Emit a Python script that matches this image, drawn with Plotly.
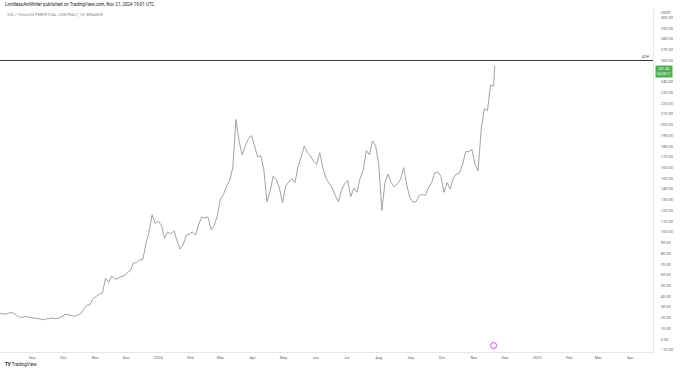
import pandas as pd
import plotly.graph_objects as go

start_date = "2023-08-01"
close = [
    24.0, 23.5, 23.3, 24.6, 24.6, 23.0, 21.0, 20.2, 21.0, 20.7, 20.2,          # Aug 23
    19.6, 19.7, 19.3, 18.2, 18.9, 19.6, 19.6, 19.2, 19.5, 21.2,                # Sep
    23.0, 22.9, 22.1, 21.3, 22.2, 23.8, 28.0, 31.6, 32.2, 38.2,                # Oct
    39.8, 42.0, 43.0, 57.0, 53.0, 59.0, 56.0, 56.5, 58.5, 59.0,                # Nov
    62.0, 64.0, 71.0, 71.5, 74.0, 74.0, 89.0, 100.0, 116.0, 108.0,             # Dec
    110.0, 106.0, 94.0, 100.0, 98.0, 101.0, 92.0, 84.0, 88.0, 97.0, 98.0,      # Jan 24
    100.0, 97.0, 107.0, 114.0, 113.0, 114.0, 102.0, 106.0, 115.0,              # Feb
    131.0, 135.0, 143.0, 148.0, 160.0, 205.0, 185.0, 172.0, 180.0, 187.0, 190.0,  # Mar
    181.0, 170.0, 171.0, 158.0, 128.0, 138.0, 152.0, 149.0, 141.0, 127.0,      # Apr
    143.0, 147.0, 150.0, 146.0, 161.0, 170.0, 180.0, 174.0, 171.0, 166.0,      # May
    163.0, 174.0, 160.0, 150.0, 145.0, 141.0, 134.0, 128.0, 139.0, 145.0,      # Jun
    148.0, 133.0, 141.0, 137.0, 150.0, 158.0, 176.0, 172.0, 185.0, 180.0,      # Jul
    163.0, 120.0, 146.0, 154.0, 146.0, 142.0, 145.0, 149.0, 160.0, 144.0, 132.0,  # Aug
    128.0, 128.0, 134.0, 135.0, 134.0, 141.0, 146.0, 155.0, 156.0, 152.0,      # Sep
    137.0, 146.0, 140.0, 150.0, 154.0, 155.0, 163.0, 175.0, 175.0, 177.0,      # Oct
    163.0, 157.0, 196.0, 215.0, 213.0, 237.0, 236.0,                            # Nov
]
last_date = "2024-11-21"
last_close = 255.0

ath_price = 259.96
current_price = 250.0
current_label = "251.43"
countdown_label = "04:58:17"
event_date = "2024-11-20"

price_ticks = [-10, 0, 10, 20, 30, 40, 50, 60, 70, 80, 90, 100, 110, 120, 130, 140,
               150, 160, 170, 180, 190, 200, 210, 220, 230, 240, 260, 270, 280, 290, 300]

tick_dates = ["2023-09-01", "2023-10-01", "2023-11-01", "2023-12-01", "2024-01-01",
              "2024-02-01", "2024-03-01", "2024-04-01", "2024-05-01", "2024-06-01",
              "2024-07-01", "2024-08-01", "2024-09-01", "2024-10-01", "2024-11-01",
              "2024-12-01", "2025-01-01", "2025-02-01", "2025-03-01", "2025-04-01"]
tick_text = ["Sep", "Oct", "Nov", "Dec", "2024", "Feb", "Mar", "Apr", "May", "Jun",
             "Jul", "Aug", "Sep", "Oct", "Nov", "Dec", "2025", "Feb", "Mar", "Apr"]

dates = list(pd.date_range(start_date, periods=len(close), freq="3D")) + [pd.Timestamp(last_date)]
values = close + [last_close]

fig = go.Figure()
fig.add_trace(go.Scatter(x=dates, y=values, mode="lines",
                         line=dict(color="#a2a2a2", width=1), hoverinfo="skip",
                         showlegend=False))
fig.add_trace(go.Scatter(x=[event_date], y=[-6], mode="markers",
                         marker=dict(symbol="circle-open", size=6, color="#c94fd8",
                                     line=dict(width=1)),
                         showlegend=False, hoverinfo="skip"))

fig.add_shape(type="line", xref="paper", x0=0, x1=1, yref="y", y0=ath_price, y1=ath_price,
              line=dict(color="#3a3a3a", width=1))

font = "Roboto, Arial, sans-serif"
fig.update_layout(
    width=680, height=368,
    margin=dict(l=0, r=27, t=9, b=16),
    paper_bgcolor="white", plot_bgcolor="white",
    font=dict(family=font, size=4, color="#555"),
    xaxis=dict(range=["2023-08-01", "2025-04-23"], tickvals=tick_dates, ticktext=tick_text,
               showgrid=False, zeroline=False, showline=True, linecolor="#e6e6e6",
               linewidth=1, ticks="", tickfont=dict(size=4, color="#666"),
               ticklabelstandoff=1),
    yaxis=dict(side="right", range=[-12, 308], tickvals=price_ticks, tickformat=".2f",
               showgrid=False, zeroline=False, showline=True, linecolor="#e6e6e6",
               linewidth=1, ticks="", tickfont=dict(size=4, color="#666"),
               ticklabelstandoff=6),
    annotations=[
        dict(text="LimitlessAntWriter published on TradingView.com, Nov 21, 2024 19:01 UTC",
             xref="paper", yref="paper", x=0.005, y=1, yshift=5, xanchor="left",
             yanchor="middle", showarrow=False, font=dict(size=4.5, color="#222")),
        dict(text="SOL / TetherUS PERPETUAL CONTRACT, 1D, BINANCE",
             xref="paper", yref="paper", x=0.008, y=1, yshift=-5, xanchor="left",
             yanchor="middle", showarrow=False, font=dict(size=4, color="#888")),
        dict(text="USDT", xref="paper", yref="paper", x=1, xshift=13, y=1, yshift=-3,
             xanchor="center", yanchor="middle", showarrow=False,
             font=dict(size=4, color="#555")),
        dict(text="ATH", xref="paper", yref="y", x=1, xshift=-2, y=ath_price, yshift=3,
             xanchor="right", yanchor="middle", showarrow=False,
             font=dict(size=3.5, color="#333")),
        dict(text=current_label + "<br>" + countdown_label, xref="paper", yref="y",
             x=1, xshift=2, y=current_price, xanchor="left", yanchor="middle",
             showarrow=False, bgcolor="#4caf50", borderpad=1,
             font=dict(size=3.5, color="white")),
        dict(text="<b>TV</b> TradingView", xref="paper", yref="paper", x=0.004,
             y=0, yshift=-12, xanchor="left", yanchor="middle", showarrow=False,
             font=dict(size=4.5, color="#222")),
    ],
)

fig.write_html("out.html")
